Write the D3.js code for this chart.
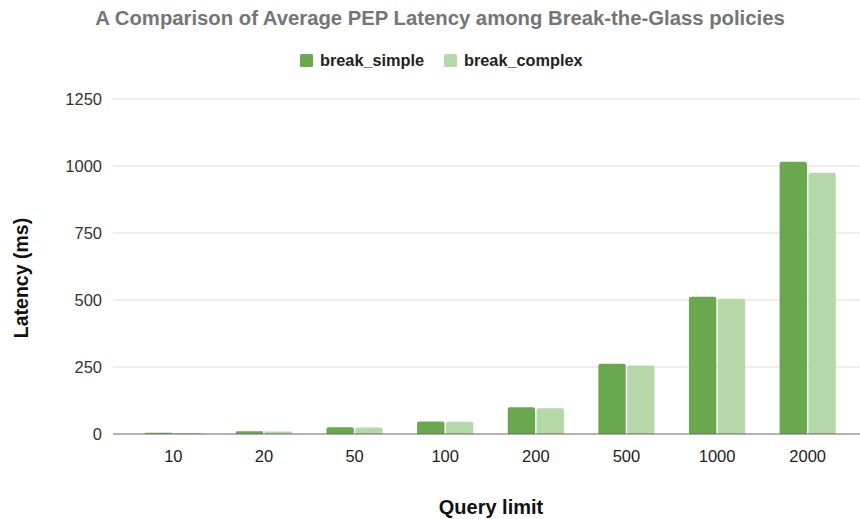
<!DOCTYPE html>
<html>
<head>
<meta charset="utf-8">
<script src="https://cdn.jsdelivr.net/npm/d3@7"></script>
<style>
  body { margin: 0; background: #fff; }
  text { font-family: "Liberation Sans", Arial, sans-serif; }
</style>
</head>
<body>
<div id="chart"></div>
<script>
const categories = ["10", "20", "50", "100", "200", "500", "1000", "2000"];
const seriesNames = ["break_simple", "break_complex"];
const breakSimple = [5, 10, 25, 47, 100, 262, 512, 1016];
const breakComplex = [4, 9, 24, 46, 96, 256, 505, 975];
const yTicks = [0, 250, 500, 750, 1000, 1250];
const colors = ["#6aa84f", "#b6d7a8"];

const width = 860;
const height = 519;

const svg = d3.select("#chart")
  .append("svg")
  .attr("width", width)
  .attr("height", height);

const x0 = d3.scaleBand()
  .domain(categories)
  .range([128, 853])
  .paddingInner(0.38)
  .paddingOuter(0.19);

const x1 = d3.scaleBand()
  .domain(seriesNames)
  .range([0, x0.bandwidth()])
  .paddingInner(0.05);

const y = d3.scaleLinear()
  .domain([0, 1250])
  .range([434, 99]);

// gridlines
svg.append("g")
  .selectAll("line")
  .data(yTicks.filter(d => d > 0))
  .enter()
  .append("line")
  .attr("x1", 113)
  .attr("x2", width)
  .attr("y1", d => y(d))
  .attr("y2", d => y(d))
  .attr("stroke", "#dddddd")
  .attr("stroke-width", 1);

// y tick labels
svg.append("g")
  .selectAll("text")
  .data(yTicks)
  .enter()
  .append("text")
  .attr("x", 102)
  .attr("y", d => y(d) + 6)
  .attr("text-anchor", "end")
  .attr("font-size", 16.5)
  .attr("fill", "#333")
  .text(d => d);

// bars
const rows = categories.map((c, i) => ({
  cat: c,
  values: [breakSimple[i], breakComplex[i]]
}));

const groups = svg.append("g")
  .selectAll("g")
  .data(rows)
  .enter()
  .append("g")
  .attr("transform", d => `translate(${x0(d.cat)},0)`);

groups.selectAll("path")
  .data(d => d.values.map((v, k) => ({ name: seriesNames[k], value: v, k })))
  .enter()
  .append("path")
  .attr("d", d => {
    const bx = x1(d.name), bw = x1.bandwidth();
    const top = y(d.value), bot = y(0);
    const r = Math.min(2, (bot - top) / 2);
    return `M${bx},${bot}V${top + r}Q${bx},${top} ${bx + r},${top}H${bx + bw - r}Q${bx + bw},${top} ${bx + bw},${top + r}V${bot}Z`;
  })
  .attr("fill", d => colors[d.k]);

// baseline
svg.append("line")
  .attr("x1", 113)
  .attr("x2", width)
  .attr("y1", y(0))
  .attr("y2", y(0))
  .attr("stroke", "#666")
  .attr("stroke-width", 1.2);

// x tick labels
svg.append("g")
  .selectAll("text")
  .data(categories)
  .enter()
  .append("text")
  .attr("x", d => x0(d) + x0.bandwidth() / 2)
  .attr("y", 462)
  .attr("text-anchor", "middle")
  .attr("font-size", 16.5)
  .attr("fill", "#222")
  .text(d => d);

// title
svg.append("text")
  .attr("x", 440)
  .attr("y", 25)
  .attr("text-anchor", "middle")
  .attr("font-size", 20.3)
  .attr("font-weight", "bold")
  .attr("fill", "#757575")
  .text("A Comparison of Average PEP Latency among Break-the-Glass policies");

// legend
const legendItems = [
  { name: seriesNames[0], x: 300, color: colors[0] },
  { name: seriesNames[1], x: 444, color: colors[1] }
];
const legend = svg.append("g")
  .selectAll("g")
  .data(legendItems)
  .enter()
  .append("g")
  .attr("transform", d => `translate(${d.x},54)`);

legend.append("rect")
  .attr("width", 13)
  .attr("height", 13)
  .attr("rx", 1.5)
  .attr("fill", d => d.color);

legend.append("text")
  .attr("x", 20)
  .attr("y", 12)
  .attr("font-size", 16.3)
  .attr("font-weight", "bold")
  .attr("fill", "#222")
  .text(d => d.name);

// axis titles
svg.append("text")
  .attr("transform", "translate(28,278) rotate(-90)")
  .attr("text-anchor", "middle")
  .attr("font-size", 19.5)
  .attr("font-weight", "bold")
  .attr("fill", "#111")
  .text("Latency (ms)");

svg.append("text")
  .attr("x", 491)
  .attr("y", 514)
  .attr("text-anchor", "middle")
  .attr("font-size", 20)
  .attr("font-weight", "bold")
  .attr("fill", "#111")
  .text("Query limit");
</script>
</body>
</html>
